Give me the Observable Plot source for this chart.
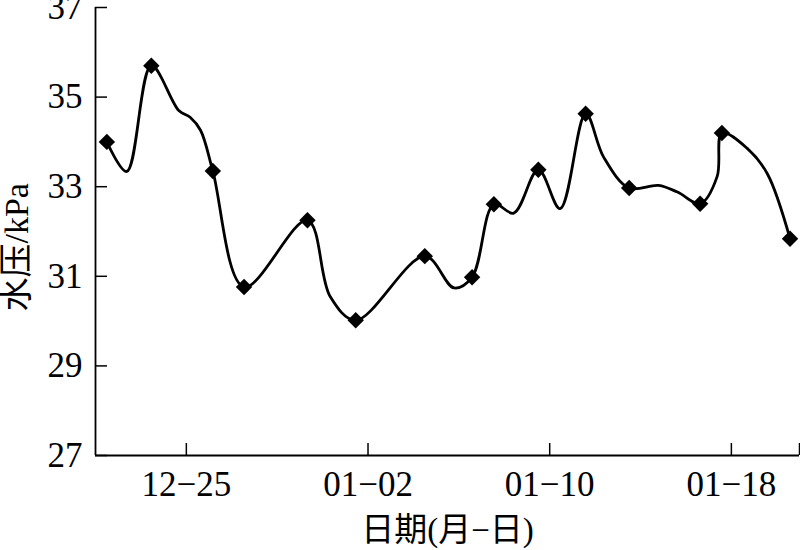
<!DOCTYPE html>
<html><head><meta charset="utf-8">
<script src="https://cdn.jsdelivr.net/npm/d3@7"></script>
<script src="https://cdn.jsdelivr.net/npm/@observablehq/plot@0.6"></script>
<style>body{margin:0;background:#fff}</style>
</head><body><div id="chart"></div>
<script>
// Marked observations (diamonds)
const markerDates = ["2013-12-21T12:00Z","2013-12-23T11:00Z","2013-12-26T04:00Z","2013-12-27T13:00Z","2013-12-30T08:00Z","2014-01-01T11:00Z","2014-01-04T12:00Z","2014-01-06T14:00Z","2014-01-07T13:00Z","2014-01-09T12:00Z","2014-01-11T14:00Z","2014-01-13T12:00Z","2014-01-16T15:00Z","2014-01-17T14:00Z","2014-01-20T14:00Z"];
const markerValues = [34.00,35.70,33.35,30.76,32.25,30.02,31.45,30.98,32.61,33.38,34.63,32.97,32.62,34.20,31.84];

// Curve readings (line passes through these, including the markers)
const curveDates = ["2013-12-21T12:00Z","2013-12-22T09:00Z","2013-12-23T11:00Z","2013-12-24T16:00Z","2013-12-25T04:00Z","2013-12-25T15:00Z","2013-12-26T04:00Z","2013-12-27T13:00Z","2013-12-30T08:00Z","2013-12-31T08:00Z","2014-01-01T11:00Z","2014-01-04T12:00Z","2014-01-05T19:00Z","2014-01-06T14:00Z","2014-01-07T13:00Z","2014-01-08T10:00Z","2014-01-09T12:00Z","2014-01-10T11:00Z","2014-01-11T14:00Z","2014-01-12T09:00Z","2014-01-13T12:00Z","2014-01-14T19:00Z","2014-01-15T15:00Z","2014-01-16T15:00Z","2014-01-17T09:00Z","2014-01-17T14:00Z","2014-01-18T17:00Z","2014-01-19T14:00Z","2014-01-20T14:00Z"];
const curveValues = [34.00,33.34,35.70,34.70,34.55,34.26,33.35,30.76,32.25,30.55,30.02,31.45,30.74,30.98,32.61,32.41,33.38,32.51,34.63,33.66,32.97,33.03,32.88,32.62,33.23,34.20,33.85,33.29,31.84];

// Axes
const xDomain = ["2013-12-21T00:00Z","2014-01-21T00:00Z"];
const xTickDates = ["2013-12-25T00:00Z","2014-01-02T00:00Z","2014-01-10T00:00Z","2014-01-18T00:00Z","2014-01-21T00:00Z"];
const xTickLabels = ["12\u221225","01\u221202","01\u221210","01\u221218",""];
const yDomain = [27, 37];
const yTicks = [27, 29, 31, 33, 35, 37];
const xLabel = "日期(月\u2212日)";
const yLabel = "水压/kPa";

const markers = markerDates.map((d, i) => ({date: new Date(d), value: markerValues[i]}));
const curve = curveDates.map((d, i) => ({date: new Date(d), value: curveValues[i]}));
const tickDates = xTickDates.map(d => new Date(d));
const labelMap = new Map(tickDates.map((d, i) => [+d, xTickLabels[i]]));

const chart = Plot.plot({
  width: 800, height: 550,
  marginLeft: 95, marginRight: 1, marginTop: 7, marginBottom: 95,
  style: {fontFamily: "'Liberation Serif', 'Noto Sans CJK SC', serif", fontSize: "35px", background: "#fff", color: "#000", overflow: "visible"},
  x: {type: "utc", domain: xDomain.map(d => new Date(d))},
  y: {domain: yDomain},
  marks: [
    Plot.axisX({ticks: tickDates, tickFormat: d => labelMap.get(+d), tickSize: -12, tickPadding: 28, strokeWidth: 1.5, label: null, fontSize: 35}),
    Plot.axisY({ticks: yTicks, tickSize: -12, tickPadding: 25, strokeWidth: 1.5, label: null, fontSize: 35}),
    Plot.ruleX([new Date(xDomain[0])], {strokeWidth: 1.8}),
    Plot.ruleY([yDomain[0]], {strokeWidth: 1.8}),
    Plot.line(curve, {x: "date", y: "value", curve: "catmull-rom", stroke: "black", strokeWidth: 2.8}),
    Plot.dot(markers, {x: "date", y: "value", symbol: "diamond2", r: 7.4, fill: "black", stroke: "none"}),
    Plot.text([xLabel], {text: d => d, frameAnchor: "bottom", dy: 85, fontSize: 33}),
    Plot.text([yLabel], {text: d => d, frameAnchor: "left", dx: -78, dy: 80, rotate: -90, fontSize: 34})
  ]
});
document.getElementById("chart").appendChild(chart);
</script>
</body></html>
